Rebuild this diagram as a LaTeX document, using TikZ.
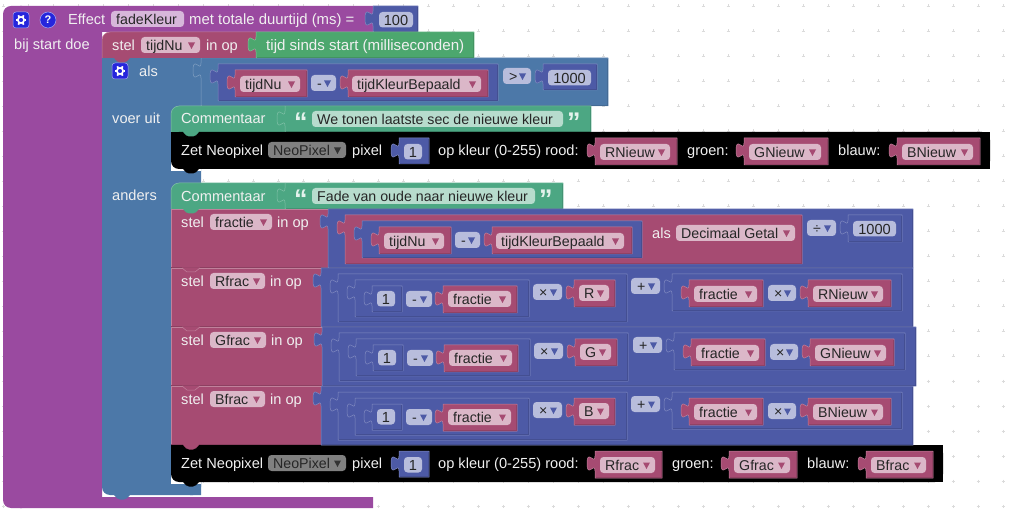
\documentclass[tikz,border=0pt]{standalone}
\usepackage{fontspec}
\setmainfont{Liberation Sans}
\usepackage{xcolor}
\usetikzlibrary{positioning,calc}

\definecolor{procCol}{HTML}{9A4AA0}
\definecolor{varCol}{HTML}{A64B72}
\definecolor{mathCol}{HTML}{4D5AA6}
\definecolor{logicCol}{HTML}{4C78A8}
\definecolor{textCol}{HTML}{4CA783}
\definecolor{timeCol}{HTML}{4CA76E}
\definecolor{pillProc}{HTML}{D7B7DA}
\definecolor{pillVar}{HTML}{DBB7C8}
\definecolor{pillMath}{HTML}{B8BDDC}
\definecolor{pillText}{HTML}{B7DCCD}
\definecolor{iconCol}{HTML}{2626DC}

\tikzset{
  lbl/.style={anchor=base west, inner sep=0pt, yshift=-0.6pt, text=white!94!black, font=\fontsize{14.6}{16}\selectfont},
  fldlbl/.style={anchor=base west, inner sep=0pt, yshift=-0.6pt, text=black!85, font=\fontsize{14.2}{16}\selectfont},
  numlbl/.style={anchor=base, inner sep=0pt, yshift=-0.6pt, text=black!85, font=\fontsize{14.6}{16}\selectfont},
  quotelbl/.style={anchor=base west, inner sep=0pt, text=white!85!textCol, font=\bfseries\fontsize{27}{27}\selectfont},
  gridmark/.style={draw=black!14, line width=0.5pt}
}

% value block with its puzzle tab: x1,y1,x2,y2,colour
\newcommand{\valblk}[5]{
  \fill[#5] (#1,#2) -- (#3,#2) -- (#3,#4) -- (#1,#4) -- (#1,#2+20)
    .. controls (#1,#2+10) and (#1-8,#2+28) .. (#1-8,#2+12.5)
    .. controls (#1-8,#2-3) and (#1,#2+15) .. (#1,#2+5) -- cycle;
  \draw[#5!70!white, line width=0.5pt] (#3,#2) -- (#1,#2) -- (#1,#2+5)
    .. controls (#1,#2+15) and (#1-8,#2-3) .. (#1-8,#2+12.5)
    .. controls (#1-8,#2+28) and (#1,#2+10) .. (#1,#2+20) -- (#1,#4) -- (#3,#4) -- (#3,#2);
  \draw[#5!88!black, line width=0.5pt] (#1+0.6,#4-0.6) -- (#3-0.6,#4-0.6) -- (#3-0.6,#2+0.6);
}
% plain part of a statement: x1,y1,x2,y2,colour
\newcommand{\stblk}[5]{
  \fill[#5] (#1,#2) rectangle (#3,#4);
  \draw[#5!70!white, line width=0.5pt] (#1,#4) -- (#1,#2) -- (#3,#2);
  \draw[#5!85!black, line width=0.5pt] (#1,#4-0.3) -- (#3,#4-0.3);
}
% statement with round top corner: x1,y1,x2,y2,colour
\newcommand{\hatblk}[5]{
  \fill[#5] (#1,#4) -- (#1,#2+8) arc[start angle=180, end angle=90, radius=8pt] -- (#3,#2) -- (#3,#4) -- cycle;
  \draw[#5!70!white, line width=0.5pt] (#1,#4) -- (#1,#2+8) arc[start angle=180, end angle=90, radius=8pt] -- (#3,#2);
}
% tab below a statement: x,y,colour
\newcommand{\btab}[3]{
  \fill[#3, rounded corners=2pt] (#1+11,#2-1) -- (#1+14,#2+2) -- (#1+16,#2+4.5) -- (#1+24,#2+4.5) -- (#1+26,#2+2) -- (#1+29,#2-1) -- cycle;
}
% notch line where two equal blocks meet: x,y,colour
\newcommand{\nline}[3]{
  \fill[#3] (#1+11,#2-0.5) -- (#1+16,#2+4) -- (#1+24,#2+4) -- (#1+29,#2-0.5) -- cycle;
  \draw[#3!70!white, line width=0.5pt] (#1+11,#2) -- (#1+16,#2+4) -- (#1+24,#2+4) -- (#1+29,#2);
}
% dropdown field: name,x1,x2,y,text,fill,arrow,text inset
\newcommand{\drop}[8]{
  \fill[#6, rounded corners=3.5pt] (#2,#4) rectangle (#3,#4+16);
  \node[fldlbl] (#1) at (#2+#8,#4+13) {#5};
  \fill[#7] (#3-12,#4+5.5) -- (#3-5,#4+5.5) -- (#3-8.5,#4+12) -- cycle;
}
% number field: name,x1,x2,y,text
\newcommand{\numfld}[5]{
  \fill[pillMath, rounded corners=3.5pt] (#2,#4) rectangle (#3,#4+15.5);
  \node[numlbl] (#1) at ({(#2+#3)/2},#4+13) {#5};
}
% settings icon: x,y
\newcommand{\gearicon}[2]{
  \fill[iconCol, rounded corners=3pt, draw=white!60!iconCol, line width=0.5pt] (#1,#2) rectangle (#1+16,#2+16);
  \foreach \a in {0,60,...,300}
    \draw[white, line width=1.8pt] ($(#1+8,#2+8)+(\a:3.5pt)$) -- ($(#1+8,#2+8)+(\a:5.4pt)$);
  \draw[white, line width=1.7pt] (#1+8,#2+8) circle[radius=3.1pt];
}

\begin{document}
\begin{tikzpicture}[x=1pt,y=-1pt]
  \useasboundingbox (0,0) rectangle (1009,518);
  % Workspace grid
  \foreach \i in {0,...,40} {
    \foreach \j in {0,...,20} {
      \draw[gridmark] (3+25*\i-1.5,6+25*\j) -- (3+25*\i+1.5,6+25*\j);
      \draw[gridmark] (3+25*\i,6+25*\j-1.5) -- (3+25*\i,6+25*\j+1.5);
    }
  }

  % Effect block
  \fill[procCol, rounded corners=8pt] (3,6) -- (30,6) -- (30,508) -- (3,508) -- cycle;
  \fill[procCol] (20,6) rectangle (373,32) (20,32) rectangle (102,508) (102,497) rectangle (373,508);
  \gearicon{13}{12}
  \fill[iconCol, draw=white!60!iconCol, line width=0.5pt] (48,20) circle[radius=8pt];
  \node[anchor=base, inner sep=0pt, text=white, font=\bfseries\fontsize{11}{12}\selectfont] (helpmark) at (48,24) {?};
  \node[lbl] (effect) at (68,24) {Effect};
  \fill[pillProc, rounded corners=3.5pt] (111,11) rectangle (184,27);
  \node[fldlbl] (fadename) at (116,24) {fadeKleur};
  \node[lbl, font=\fontsize{14.9}{16}\selectfont] (duur) at (189,24) {met totale duurtijd (ms) =};
  \valblk{373}{6}{418}{32}{mathCol}
  \numfld{dur}{379}{413}{12}{100}
  \node[lbl] (bij) at (14,49) {bij start doe};

  % Als block
  \fill[logicCol, rounded corners=8pt] (102,40) -- (201,40) -- (201,495) -- (102,495) -- cycle;
  \fill[logicCol] (102,58) rectangle (608,106) (190,480) rectangle (201,495);
  \fill[white] (171,150) rectangle (201,171);
  \fill[white] (171,470) rectangle (201,484);
  \fill[logicCol] (150,106) rectangle (171,183);
  \fill[logicCol] (171,171) rectangle (201,183);
  \valblk{201}{58}{608}{106}{logicCol}
  \gearicon{112}{63}
  \node[lbl] (als) at (139,76) {als};
  \node[lbl] (voer) at (112,123) {voer uit};
  \node[lbl] (anders) at (112,200) {anders};
  \valblk{218}{64}{498}{101}{mathCol}
  \valblk{235}{70}{307}{97}{varCol}
  \drop{nua}{240}{300}{76}{tijdNu}{pillVar}{varCol}{5}
  \drop{mina}{311}{336}{75}{-}{pillMath}{mathCol}{6}
  \valblk{348}{70}{488}{97}{varCol}
  \drop{kleura}{352}{481}{76}{tijdKleurBepaald}{pillVar}{varCol}{5}
  \drop{groter}{503}{531}{68}{>}{pillMath}{mathCol}{6}
  \valblk{543}{64}{597}{90}{mathCol}
  \numfld{grens}{548}{591}{70}{1000}

  % Stel tijdNu
  \hatblk{102}{32}{256}{58}{varCol}
  \node[lbl] (stela) at (112,50) {stel};
  \drop{nub}{141}{200}{37}{tijdNu}{pillVar}{varCol}{5}
  \node[lbl] (inopa) at (206,50) {in op};
  \valblk{256}{32}{474}{58}{timeCol}
  \node[lbl, font=\fontsize{15.1}{16}\selectfont] (sinds) at (266,50) {tijd sinds start (milliseconden)};

  % Then branch
  \hatblk{171}{106}{285}{132}{textCol}
  \node[lbl] (coma) at (181,123) {Commentaar};
  \valblk{285}{106}{591}{132}{textCol}
  \node[quotelbl] (qa) at (294,132) {“};
  \fill[pillText, rounded corners=3.5pt] (312,111) rectangle (563,127);
  \node[fldlbl] (comtxta) at (317,124) {We tonen laatste sec de nieuwe kleur};
  \node[quotelbl] (qb) at (567,132) {”};

  % Zet Neopixel: y,names of the three colour values with their places
  \foreach \y/\lr/\rr/\lx/\gx/\gr/\gp/\bx/\br/\bp/\xe/\rn/\gn/\bn in
    {132/595/677/687/744/828/821/897/980/973/990/RNieuw/GNieuw/BNieuw,
     445/595/662/672/729/797/790/866/933/926/943/Rfrac/Gfrac/Bfrac} {
    \fill[black, rounded corners=8pt] (171,\y) -- (\xe+0.01,\y) -- (\xe+0.01,\y+37) -- (171,\y+37) -- cycle;
    \fill[black] (180,\y) rectangle (\xe,\y+37);
    \fill[black] (171,\y) rectangle (180,\y+20);
    \node[lbl] (zet\y) at (181,\y+23) {Zet Neopixel};
    \fill[black!50, rounded corners=3.5pt] (268,\y+10) rectangle (346,\y+26);
    \node[fldlbl] (pix\y) at (273,\y+23) {NeoPixel};
    \fill[black!80] (334,\y+15.5) -- (341,\y+15.5) -- (337.5,\y+22) -- cycle;
    \node[lbl] (pixel\y) at (352,\y+23) {pixel};
    \valblk{399}{\y+6}{429}{\y+32}{mathCol}
    \numfld{num\y}{404}{422}{\y+12}{1}
    \node[lbl] (op\y) at (438,\y+23) {op kleur (0-255) rood:};
    \valblk{\lr}{\y+6}{\rr}{\y+33}{varCol}
    \drop{rood\y}{\lr+5}{\rr-7}{\y+12}{\rn}{pillVar}{varCol}{5}
    \node[lbl] (groen\y) at (\lx,\y+23) {groen:};
    \valblk{\gx}{\y+6}{\gr}{\y+33}{varCol}
    \drop{gr\y}{\gx+5}{\gp}{\y+12}{\gn}{pillVar}{varCol}{5}
    \node[lbl] (blauw\y) at (\gr+10,\y+23) {blauw:};
    \valblk{\bx}{\y+6}{\br}{\y+33}{varCol}
    \drop{bl\y}{\bx+5}{\bp}{\y+12}{\bn}{pillVar}{varCol}{5}
  }

  % Else branch
  \hatblk{171}{183}{285}{209}{textCol}
  \node[lbl] (comb) at (181,201) {Commentaar};
  \valblk{285}{183}{563}{209}{textCol}
  \node[quotelbl] (qc) at (294,209) {“};
  \fill[pillText, rounded corners=3.5pt] (312,188) rectangle (535,204);
  \node[fldlbl] (comtxtb) at (317,201) {Fade van oude naar nieuwe kleur};
  \node[quotelbl] (qd) at (539,209) {”};

  % Stel fractie
  \stblk{171}{209}{328}{268}{varCol}
  \node[lbl] (stelf) at (181,227) {stel};
  \drop{fractb}{210}{272}{214}{fractie}{pillVar}{varCol}{5}
  \node[lbl] (inopf) at (277,227) {in op};
  \valblk{328}{209}{913}{268}{mathCol}
  \valblk{345}{215}{802}{264}{varCol}
  \valblk{362}{221}{642}{258}{mathCol}
  \valblk{379}{227}{451}{254}{varCol}
  \drop{nuc}{384}{444}{233}{tijdNu}{pillVar}{varCol}{5}
  \drop{minc}{455}{480}{232}{-}{pillMath}{mathCol}{6}
  \valblk{492}{227}{632}{254}{varCol}
  \drop{kleurc}{496}{624}{233}{tijdKleurBepaald}{pillVar}{varCol}{5}
  \node[lbl] (alsd) at (652,238) {als};
  \drop{dec}{676}{795}{225}{Decimaal Getal}{pillVar}{varCol}{5}
  \drop{deel}{807}{836}{220}{÷}{pillMath}{mathCol}{6}
  \valblk{848}{215}{902}{242}{mathCol}
  \numfld{duizend}{853}{896}{221}{1000}

  % Rows for Rfrac, Gfrac, Bfrac
  \foreach \y/\d/\e/\nm/\vr/\xr/\xc/\xn/\xb in
    {268/0/0/Rfrac/R/615/902/891/913,
     327/1/2/Gfrac/G/617/905/894/916,
     386/0/0/Bfrac/B/615/902/891/913} {
    \stblk{171}{\y}{321+\d}{\y+59}{varCol}
    \node[lbl] (stel\nm) at (181,\y+18) {stel};
    \drop{name\nm}{210}{265+\d}{\y+5}{\nm}{pillVar}{varCol}{5}
    \node[lbl] (inop\nm) at (270+\d,\y+18) {in op};
    \valblk{321+\d}{\y}{\xb}{\y+59}{mathCol}
    \valblk{338+\d}{\y+6}{627+\d}{\y+54}{mathCol}
    \valblk{355+\d}{\y+12}{529+\d}{\y+49}{mathCol}
    \valblk{372+\d}{\y+18}{402+\d}{\y+44}{mathCol}
    \numfld{een\nm}{377+\d}{395+\d}{\y+23}{1}
    \drop{min\nm}{406+\d}{432+\d}{\y+23}{-}{pillMath}{mathCol}{6}
    \valblk{443+\d}{\y+18}{517+\d}{\y+45}{varCol}
    \drop{fra\nm}{448+\d}{511+\d}{\y+23}{fractie}{pillVar}{varCol}{5}
    \drop{mala\nm}{533+\d}{562+\d}{\y+16}{×}{pillMath}{mathCol}{6}
    \valblk{574+\d}{\y+12}{\xr}{\y+39}{varCol}
    \drop{kl\nm}{579+\d}{\xr-6}{\y+17}{\vr}{pillVar}{varCol}{5}
    \drop{plus\nm}{631+\e}{660+\e}{\y+10}{+}{pillMath}{mathCol}{6}
    \valblk{672+\e}{\y+6}{\xc}{\y+43}{mathCol}
    \valblk{689+\e}{\y+12}{763+\e}{\y+39}{varCol}
    \drop{frb\nm}{694+\e}{757+\e}{\y+18}{fractie}{pillVar}{varCol}{5}
    \drop{malb\nm}{768+\e}{796+\e}{\y+17}{×}{pillMath}{mathCol}{6}
    \valblk{808+\e}{\y+12}{\xn}{\y+39}{varCol}
    \drop{nw\nm}{813+\e}{\xn-8}{\y+18}{\vr Nieuw}{pillVar}{varCol}{5}
  }

  % Tabs below the statements
  \btab{102}{58}{varCol}
  \btab{171}{132}{textCol}
  \btab{171}{169}{black}
  \btab{171}{209}{textCol}
  \btab{171}{445}{varCol}
  \btab{171}{482}{black}
  \btab{102}{495}{logicCol}
  \foreach \y in {268,327,386}
    \nline{171}{\y}{varCol};
\end{tikzpicture}
\end{document}
